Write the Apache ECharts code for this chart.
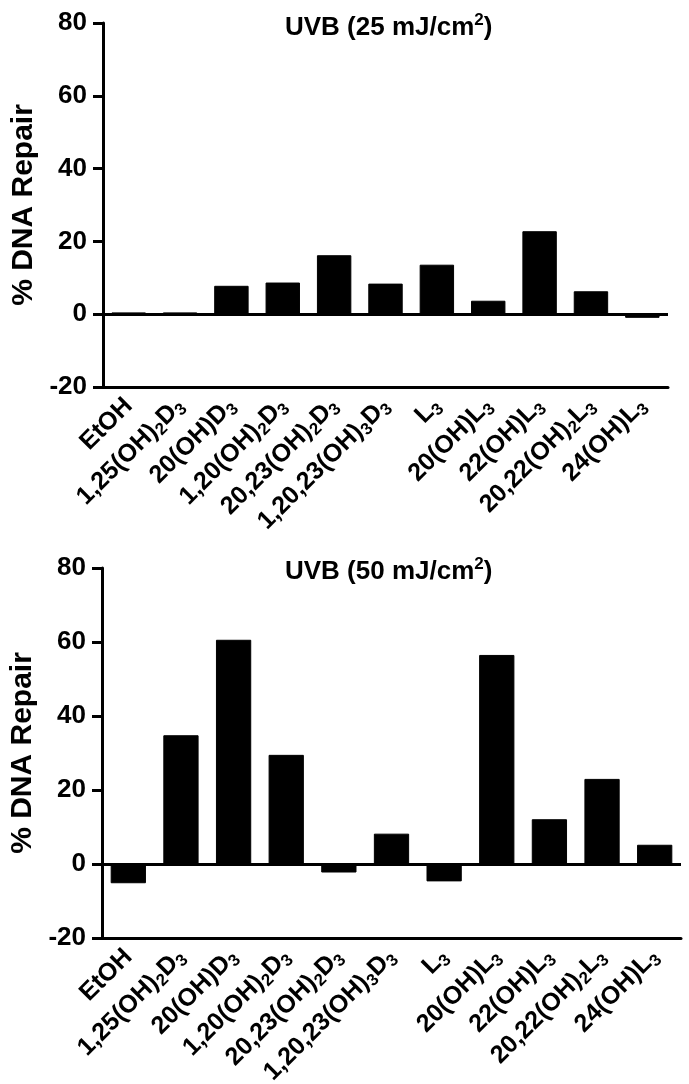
<!DOCTYPE html>
<html>
<head>
<meta charset="utf-8">
<script src="https://cdn.jsdelivr.net/npm/echarts@6/dist/echarts.min.js"></script>
<style>
html,body{margin:0;padding:0;background:#fff;}
#chart{width:689px;height:1084px;}
</style>
</head>
<body>
<div id="chart"></div>
<script>
const categories = ['EtOH','1,25(OH)2D3','20(OH)D3','1,20(OH)2D3','20,23(OH)2D3','1,20,23(OH)3D3','L3','20(OH)L3','22(OH)L3','20,22(OH)2L3','24(OH)L3'];
const repair25 = [0.5, 0.5, 7.8, 8.7, 16.2, 8.4, 13.6, 3.7, 22.8, 6.3, -1.0];
const repair50 = [-5.2, 34.8, 60.6, 29.5, -2.3, 8.2, -4.7, 56.5, 12.1, 23.0, 5.2];
const yTicks = [-20, 0, 20, 40, 60, 80];
const titles = ['UVB (25 mJ/cm{sup|2})', 'UVB (50 mJ/cm{sup|2})'];
const yName = '% DNA Repair';

const FONT = '"Liberation Sans", Arial, sans-serif';

function fmtLabel(s){
  return s.replace(/\)(\d)/g, '){sub|$1}').replace(/([DL])(\d)$/, '$1{sub|$2}')
          .split(/(\{sub\|\d\})/).map(p => p.startsWith('{sub') ? p : (p ? '{a|' + p + '}' : '')).join('');
}

const chart = echarts.init(document.getElementById('chart'), null, {renderer:'canvas'});
const grids = [
  {left:103, right:21, top:23, height:364, containLabel:false, outerBoundsMode:'none'},
  {left:102, right:8, top:568, height:370, containLabel:false, outerBoundsMode:'none'}
];
function xAxis(i){
  return {
    type:'category', gridIndex:i, data:categories,
    axisLine:{onZero:false, lineStyle:{color:'#000', width:3}},
    axisTick:{show:false},
    axisLabel:{rotate:45, interval:0, margin:15, color:'#000', formatter: v => fmtLabel(v),
      rich:{
        a:{fontFamily:FONT, fontWeight:'bold', fontSize:25, color:'#000'},
        sub:{fontFamily:FONT, fontWeight:'bold', fontSize:17, color:'#000', padding:[13,0,0,0]}
      }}
  };
}
function yAxis(i){
  return {
    type:'value', gridIndex:i, min:yTicks[0], max:yTicks[yTicks.length-1], interval:20,
    name:yName, nameLocation:'middle', nameGap:62,
    nameTextStyle:{fontFamily:FONT, fontWeight:'bold', fontSize:30, color:'#000'},
    axisLine:{show:true, lineStyle:{color:'#000', width:3}},
    axisTick:{show:true, length:10, lineStyle:{color:'#000', width:3}},
    splitLine:{show:false},
    axisLabel:{fontFamily:FONT, fontWeight:'bold', fontSize:26, color:'#000', margin:16}
  };
}
function series(i, data){
  return {
    type:'bar', xAxisIndex:i, yAxisIndex:i, data:data, barWidth:'67%',
    itemStyle:{color:'#000', borderColor:'#000', borderWidth:1},
    markLine:{silent:true, symbol:'none', label:{show:false},
      lineStyle:{color:'#000', width:3, type:'solid'}, data:[{yAxis:0}]},
    z:1
  };
}
const titleStyle = {fontFamily:FONT, fontWeight:'bold', fontSize:26, color:'#000',
  rich:{sup:{fontFamily:FONT, fontWeight:'bold', fontSize:17, color:'#000', padding:[0,0,14,0]}}};
chart.setOption({
  animation:false,
  title:[
    {text:titles[0], left:280, top:7, textStyle:titleStyle},
    {text:titles[1], left:280, top:551, textStyle:titleStyle}
  ],
  grid:grids,
  xAxis:[xAxis(0), xAxis(1)],
  yAxis:[yAxis(0), yAxis(1)],
  series:[series(0, repair25), series(1, repair50)]
});
</script>
</body>
</html>
